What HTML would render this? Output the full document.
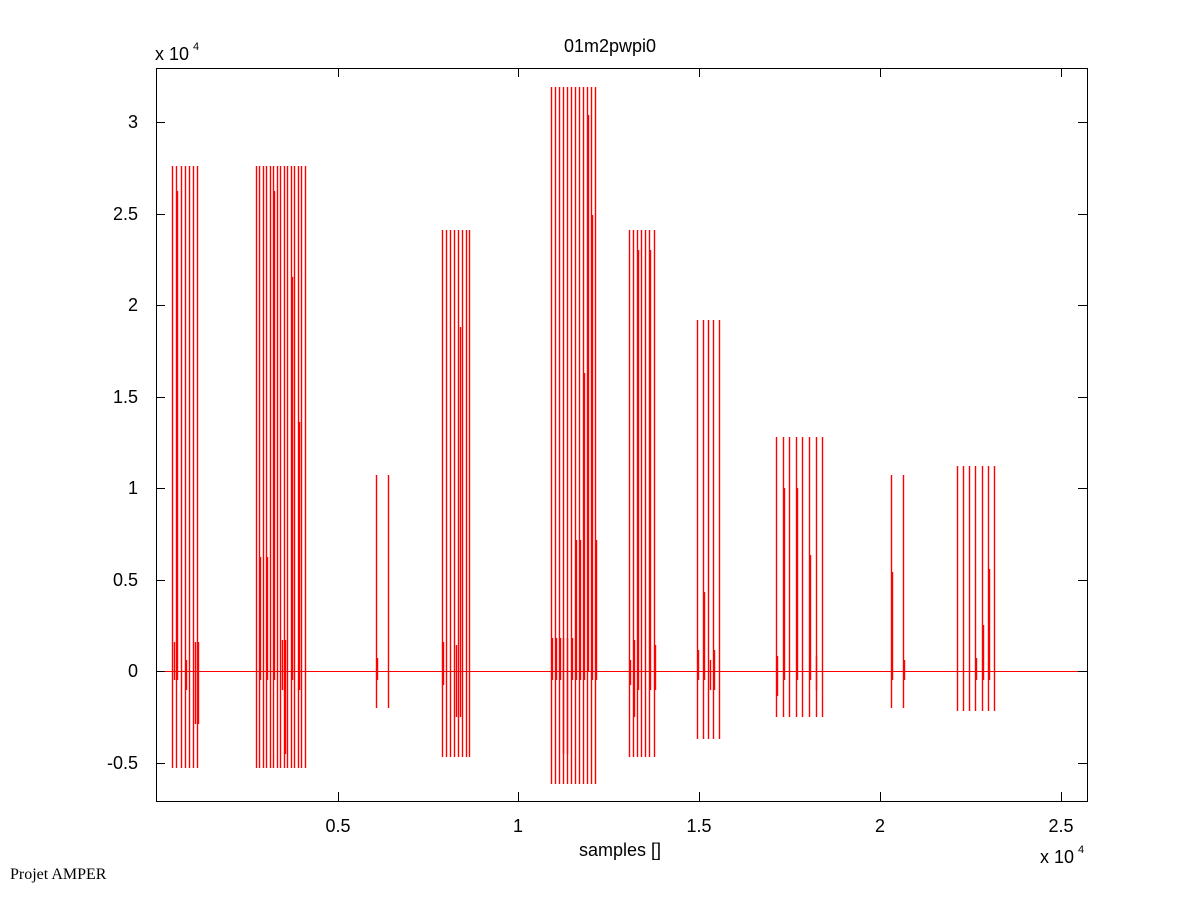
<!DOCTYPE html>
<html><head><meta charset="utf-8"><style>
html,body{margin:0;padding:0;background:#fff;}
svg{display:block;}
text{font-family:"Liberation Sans",sans-serif;font-size:18px;fill:#000;}
</style></head><body>
<svg width="1201" height="901" viewBox="0 0 1201 901" xmlns="http://www.w3.org/2000/svg">
<rect width="1201" height="901" fill="#fff"/>
<g stroke="#ff0000" stroke-width="1.4" fill="none" transform="translate(0.5,0)">
<line x1="156" y1="671.5" x2="1087" y2="671.5" stroke-width="1.1"/>
<path d="
M172 166V768 M176 166V768 M181 166V768 M185 166V768 M189 166V768 M193 166V768 M197 166V768
M256 166V768 M259 166V768 M263 166V768 M266 166V768 M270 166V768 M273 166V768 M277 166V768 M280 166V768 M284 166V768 M287 166V768 M291 166V768 M294 166V768 M298 166V768 M301 166V768 M305 166V768
M376 475V708 M388 475V708
M442 230V757 M446 230V757 M450 230V757 M454 230V757 M458 230V757 M462 230V757 M466 230V757 M469 230V757
M551 87V784 M555 87V784 M559 87V784 M563 87V784 M567 87V784 M571 87V784 M575 87V784 M579 87V784 M583 87V784 M587 87V784 M591 87V784 M595 87V784
M629 230V757 M633 230V757 M637 230V757 M641 230V757 M645 230V757 M649 230V757 M654 230V757
M697 320V739 M703 320V739 M708 320V739 M713 320V739 M719 320V739
M776 437V717 M783 437V717 M789 437V717 M796 437V717 M802 437V717 M809 437V717 M816 437V717 M822 437V717
M891 475V708 M903 475V708
M957 466V711 M963 466V711 M969 466V711 M975 466V711 M982 466V711 M988 466V711 M994 466V711
"/>
<path d="
M177 191V680 M174 642V680 M195 642V724 M198 642V724 M186 660V690
M274 191V680 M292 277V680 M299 422V690 M260 557V680 M267 557V680 M285 640V754 M282 640V690
M377 658V680
M460 327V717 M456 645V717 M443 642V685
M588 115V672 M592 215V680 M584 373V680 M576 540V680 M580 540V680 M596 540V680 M563 638V754 M567 638V754 M552 638V680 M556 638V680 M560 638V680 M572 638V680
M638 250V690 M650 250V690 M634 640V717 M655 645V690 M630 660V685
M704 592V680 M698 650V680 M714 650V690 M710 660V690
M784 488V680 M797 488V680 M810 555V680 M777 656V696 M816 656V690
M892 572V680 M904 660V680
M989 569V680 M983 625V680 M976 658V680
"/>
</g>
<g stroke="#000" stroke-width="1" fill="none" shape-rendering="crispEdges">
<rect x="156.5" y="68.5" width="931" height="733"/>
<path d="M156 122.5h9 M156 214.5h9 M156 305.5h9 M156 397.5h9 M156 488.5h9 M156 580.5h9 M156 671.5h9 M156 763.5h9
M1087 122.5h-9 M1087 214.5h-9 M1087 305.5h-9 M1087 397.5h-9 M1087 488.5h-9 M1087 580.5h-9 M1087 671.5h-9 M1087 763.5h-9
M338.5 801v-9 M518.5 801v-9 M699.5 801v-9 M880.5 801v-9 M1061.5 801v-9
M338.5 68v9 M518.5 68v9 M699.5 68v9 M880.5 68v9 M1061.5 68v9"/>
</g>
<text x="610" y="52" text-anchor="middle">01m2pwpi0</text>
<text x="155" y="60">x 10</text><text x="193" y="50" style="font-size:11px">4</text>
<g text-anchor="end">
<text x="138" y="128">3</text>
<text x="138" y="220">2.5</text>
<text x="138" y="311">2</text>
<text x="138" y="403">1.5</text>
<text x="138" y="494">1</text>
<text x="138" y="586">0.5</text>
<text x="138" y="677">0</text>
<text x="138" y="769">-0.5</text>
</g>
<g text-anchor="middle">
<text x="338" y="832">0.5</text>
<text x="518" y="832">1</text>
<text x="699" y="832">1.5</text>
<text x="880" y="832">2</text>
<text x="1061" y="832">2.5</text>
<text x="620" y="856">samples []</text>
</g>
<text x="1040" y="863">x 10</text><text x="1078" y="853" style="font-size:11px">4</text>
<text x="10" y="879" style="font-family:'Liberation Serif',serif;font-size:16px">Projet AMPER</text>
</svg>
</body></html>
